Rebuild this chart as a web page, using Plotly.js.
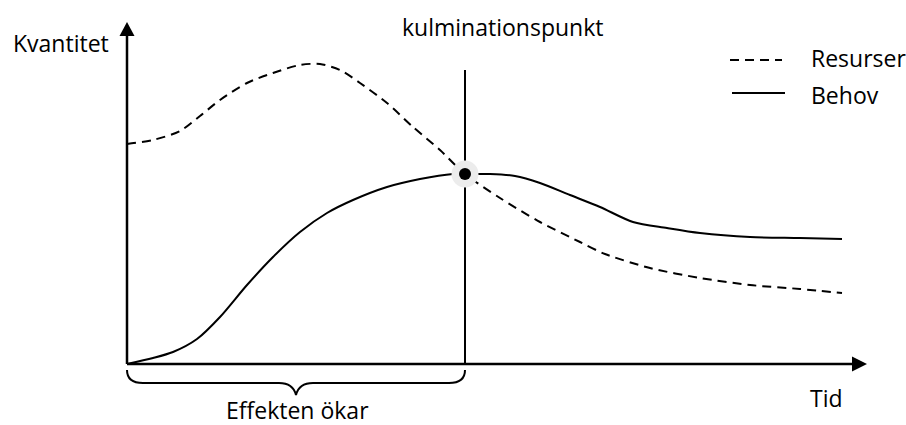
<!DOCTYPE html>
<html>
<head>
<meta charset="utf-8">
<script src="https://cdn.plot.ly/plotly-3.0.1.min.js"></script>
<style>
  html, body { margin: 0; padding: 0; background: #fff; }
  #chart { width: 906px; height: 425px; }
</style>
</head>
<body>
<div id="chart"></div>
<script>
// Data (time on x, quantity on y; origin at the axis corner)
const resurserTid = [0, 26, 53, 73, 93, 120, 146, 173, 193, 213, 233, 260, 286, 313, 338, 373, 413, 453, 478, 523, 573, 623, 673, 715];
const resurserVal = [220, 224, 233, 248, 264, 281, 291, 299, 300, 294, 281, 261, 237, 214, 190, 166, 142, 122, 110, 96, 86, 79, 75, 71];

const behovTid = [0, 26, 46, 70, 93, 120, 146, 173, 200, 226, 260, 293, 326, 338, 363, 388, 413, 443, 473, 506, 540, 573, 623, 673, 715];
const behovVal = [0, 6, 12, 25, 47, 79, 107, 132, 151, 164, 177, 185, 190, 190, 190, 188, 181, 169, 157, 142, 136, 131, 127, 126, 125];

// culmination point
const kulmTid = [338];
const kulmVal = [190];

const font = { family: 'Open Sans, sans-serif', size: 23, color: '#000' };

const resurser = {
  x: resurserTid, y: resurserVal,
  type: 'scatter', mode: 'lines', name: 'Resurser',
  line: { color: '#000', width: 2, dash: '9px,6px', shape: 'spline', smoothing: 0.8 },
  hoverinfo: 'skip'
};
const behov = {
  x: behovTid, y: behovVal,
  type: 'scatter', mode: 'lines', name: 'Behov',
  line: { color: '#000', width: 2, shape: 'spline', smoothing: 0.8 },
  hoverinfo: 'skip'
};
const halo = {
  x: kulmTid, y: kulmVal, type: 'scatter', mode: 'markers',
  marker: { size: 27, color: '#ececec' }, hoverinfo: 'skip'
};
const dot = {
  x: kulmTid, y: kulmVal, type: 'scatter', mode: 'markers',
  marker: { size: 12, color: '#000' }, hoverinfo: 'skip'
};

const xEnd = 725, yEnd = 328;

const shapes = [
  // x axis + arrow
  { type: 'line', x0: 0, y0: 0, x1: xEnd, y1: 0, line: { color: '#000', width: 2.5 } },
  { type: 'path', path: `M ${xEnd},7.5 L ${xEnd + 15},0 L ${xEnd},-7.5 Z`, fillcolor: '#000', line: { width: 0 } },
  // y axis + arrow
  { type: 'line', x0: 0, y0: 0, x1: 0, y1: yEnd, line: { color: '#000', width: 2.5 } },
  { type: 'path', path: `M -7.5,${yEnd} L 0,${yEnd + 14} L 7.5,${yEnd} Z`, fillcolor: '#000', line: { width: 0 } },
  // vertical line at culmination point
  { type: 'line', x0: kulmTid[0], y0: 0, x1: kulmTid[0], y1: 294, line: { color: '#000', width: 2 }, layer: 'below' },
  // curly brace under the growing phase
  { type: 'path',
    path: 'M 0,-6 Q 0,-19 16,-19 L 152,-19 Q 166,-19 169,-31 Q 172,-19 186,-19 L 322,-19 Q 338,-19 338,-6',
    line: { color: '#000', width: 2 } },
  // legend samples
  { type: 'line', x0: 603, y0: 304, x1: 655, y1: 304, line: { color: '#000', width: 2, dash: '9px,6px' } },
  { type: 'line', x0: 605, y0: 271, x1: 658, y1: 271, line: { color: '#000', width: 2 } }
];

const annotations = [
  { x: -66, y: 321, text: 'Kvantitet', showarrow: false, font: font },
  { x: 375, y: 337, text: 'kulminationspunkt', showarrow: false, font: font },
  { x: 682, y: 306, text: 'Resurser', xanchor: 'left', showarrow: false, font: font },
  { x: 682, y: 269, text: 'Behov', xanchor: 'left', showarrow: false, font: font },
  { x: 699, y: -34, text: 'Tid', showarrow: false, font: font },
  { x: 170, y: -46, text: 'Effekten ökar', showarrow: false, font: font }
];

const layout = {
  width: 906, height: 425,
  margin: { l: 0, r: 0, t: 0, b: 0 },
  paper_bgcolor: '#fff', plot_bgcolor: '#fff',
  showlegend: false,
  xaxis: { range: [-127, 779], visible: false, fixedrange: true },
  yaxis: { range: [-61, 364], visible: false, fixedrange: true },
  shapes: shapes,
  annotations: annotations
};

Plotly.newPlot('chart', [resurser, behov, halo, dot], layout, { staticPlot: true, displayModeBar: false });
</script>
</body>
</html>
